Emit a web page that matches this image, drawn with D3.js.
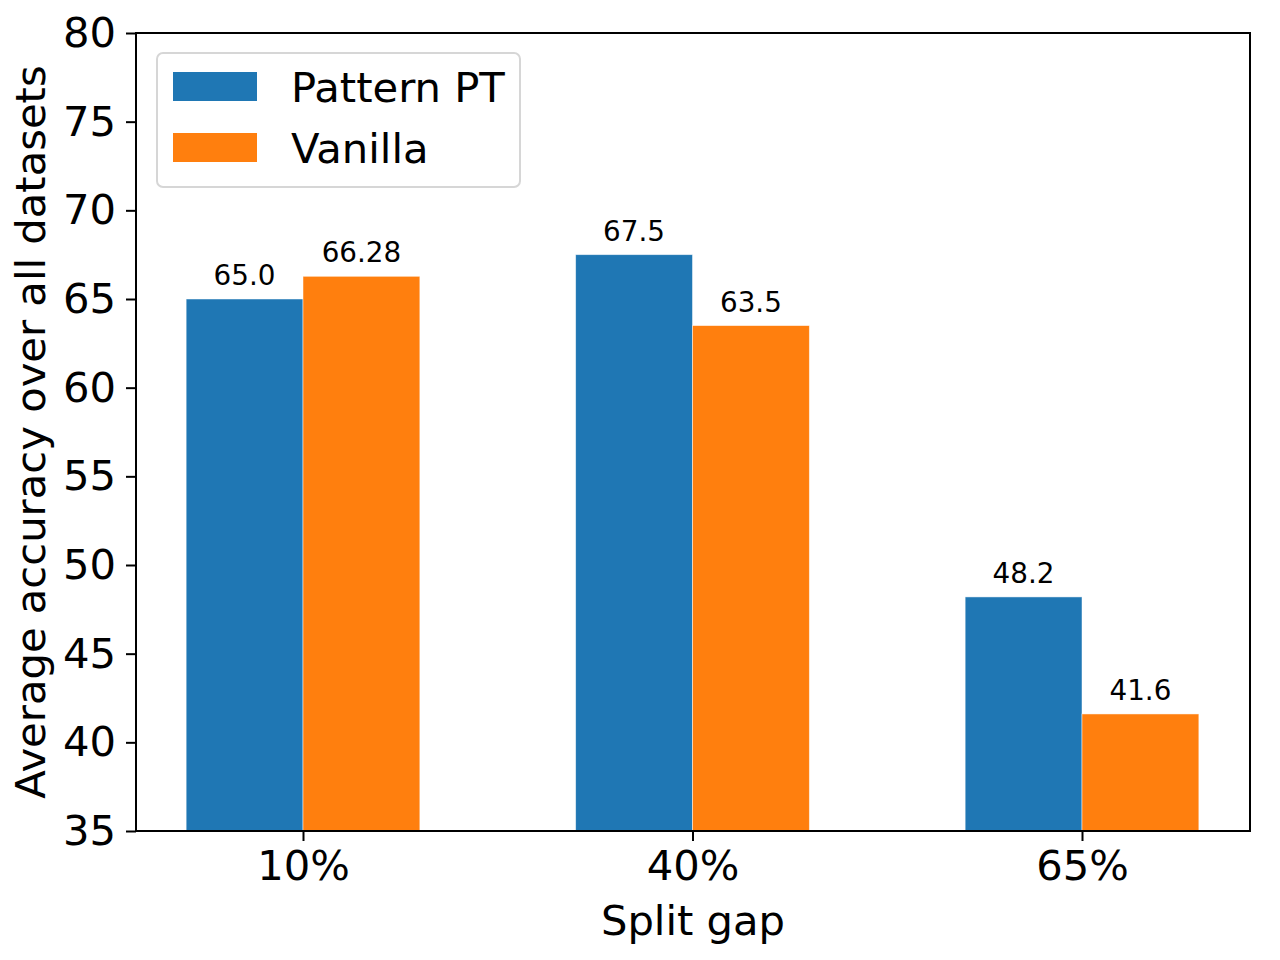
<!DOCTYPE html>
<html>
<head>
<meta charset="utf-8">
<script src="https://cdn.jsdelivr.net/npm/d3@7"></script>
<style>
	body { margin: 0; background: #fff; }
	text { font-family: "DejaVu Sans", sans-serif; fill: #000; }
</style>
</head>
<body>
<script>
	// 数据
	var categories = ['10%', '40%', '65%']
	var seriesNames = ['Pattern PT', 'Vanilla']
	var patternPT = [65.0, 67.5, 48.2]
	var vanilla = [66.28, 63.5, 41.6]
	var valueLabels = [['65.0', '67.5', '48.2'], ['66.28', '63.5', '41.6']]
	var yTicks = [35, 40, 45, 50, 55, 60, 65, 70, 75, 80]
	var colors = ['#1f77b4', '#ff7f0e']

	var width = 1280, height = 960
	// 绘图区边界 (window.top 是只读的，不能用 top 做变量名)
	var plotL = 136, plotR = 1250, plotT = 33, plotB = 831
	var barW = 0.3

	var svg = d3.select('body').append('svg')
		.attr('width', width)
		.attr('height', height)

	var x = d3.scaleLinear().domain([0, 2]).range([303, 1082])
	var y = d3.scaleLinear().domain([35, 80]).range([plotB, plotT])

	// 柱子
	var series = [patternPT, vanilla]
	series.forEach((vals, s) => {
		var off = s === 0 ? -barW / 2 : barW / 2
		svg.append('g').selectAll('rect')
			.data(vals)
			.enter()
			.append('rect')
			.attr('x', (d, i) => x(i + off - barW / 2))
			.attr('y', d => y(d))
			.attr('width', x(barW) - x(0))
			.attr('height', d => y(35) - y(d))
			.attr('fill', colors[s])
			.attr('stroke', 'rgba(255,255,255,0.6)')
			.attr('stroke-width', 0.8)

		svg.append('g').selectAll('text')
			.data(vals)
			.enter()
			.append('text')
			.attr('x', (d, i) => x(i + off))
			.attr('y', d => y(d) - 14)
			.attr('text-anchor', 'middle')
			.style('font-size', '27.8px')
			.text((d, i) => valueLabels[s][i])
	})

	// 坐标轴
	var yAxis = d3.axisLeft(y).tickValues(yTicks).tickSize(10).tickPadding(10)
	var gy = svg.append('g').attr('transform', 'translate(' + plotL + ',0)').call(yAxis)
	var xAxis = d3.axisBottom(x).tickValues([0, 1, 2]).tickFormat(i => categories[i]).tickSize(10).tickPadding(9)
	var gx = svg.append('g').attr('transform', 'translate(0,' + plotB + ')').call(xAxis)
	;[gx, gy].forEach(g => {
		g.select('.domain').remove()
		g.selectAll('line').attr('stroke', '#000').attr('stroke-width', 2)
		g.selectAll('text').style('font-size', '41.7px').style('font-family', '"DejaVu Sans", sans-serif').attr('fill', '#000')
	})

	// 边框
	svg.append('rect')
		.attr('x', plotL).attr('y', plotT)
		.attr('width', plotR - plotL).attr('height', plotB - plotT)
		.attr('fill', 'none').attr('stroke', '#000').attr('stroke-width', 2)

	// 轴标题
	svg.append('text')
		.attr('x', (plotL + plotR) / 2)
		.attr('y', 935)
		.attr('text-anchor', 'middle')
		.style('font-size', '41.7px')
		.text('Split gap')
	svg.append('text')
		.attr('transform', 'translate(45,' + (plotT + plotB) / 2 + ') rotate(-90)')
		.attr('text-anchor', 'middle')
		.style('font-size', '41.7px')
		.text('Average accuracy over all datasets')

	// 图例
	var legend = svg.append('g')
	legend.append('rect')
		.attr('x', 157).attr('y', 53)
		.attr('width', 363).attr('height', 134)
		.attr('rx', 6).attr('ry', 6)
		.attr('fill', 'rgba(255,255,255,0.8)')
		.attr('stroke', '#d6d6d6').attr('stroke-width', 2)
	var items = legend.selectAll('.item')
		.data(seriesNames)
		.enter()
		.append('g')
		.attr('class', 'item')
		.attr('transform', (d, i) => 'translate(173,' + (72 + i * 61) + ')')
	items.append('rect')
		.attr('width', 84).attr('height', 29)
		.attr('fill', (d, i) => colors[i])
	items.append('text')
		.attr('x', 118)
		.attr('y', 14.5)
		.attr('dy', '0.36em')
		.style('font-size', '41.7px')
		.text(d => d)
</script>
</body>
</html>
